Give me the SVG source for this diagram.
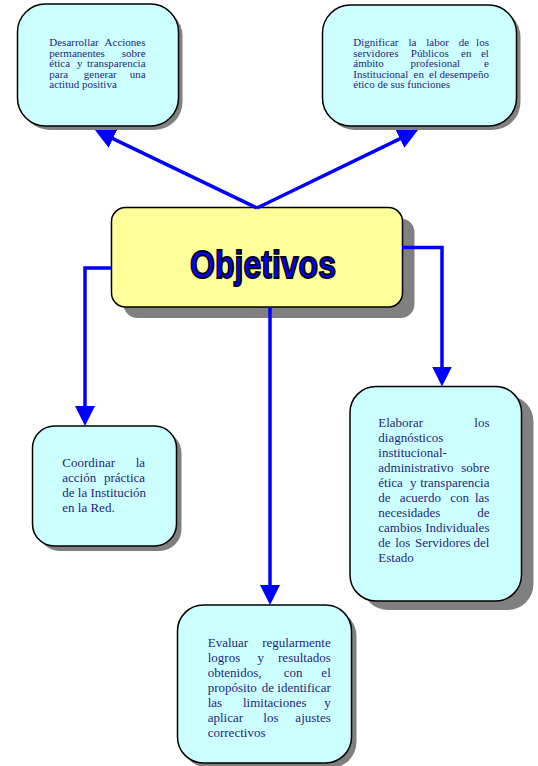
<svg xmlns="http://www.w3.org/2000/svg" width="538" height="766" viewBox="0 0 538 766">
<style>
.box{fill:#ccffff;stroke:#000;stroke-width:1.5}
.shadow{fill:#808080}
.t{font-family:"Liberation Serif","Times New Roman",serif;fill:#1f1f7a}
.t11{font-size:11px}
.t13{font-size:13px}
.e{text-anchor:end}
.con{fill:none;stroke:#0000ff;stroke-width:3.5}
</style>
<defs>
<marker id="arr" markerUnits="userSpaceOnUse" markerWidth="20" markerHeight="20" refX="10" refY="10" orient="auto" viewBox="0 0 20 20">
<path d="M0,0 L20,10 L0,20 z" fill="#0000ff"/>
</marker>
</defs>
<rect width="538" height="766" fill="#ffffff"/>

<g id="objetivos">
<rect class="shadow" x="123.5" y="218.5" width="291" height="99.5" rx="14"/>
<rect x="111.5" y="207.5" width="291" height="99.5" rx="14" fill="#ffff99" stroke="#000" stroke-width="1.5"/>
<text x="190" y="278" font-family="Liberation Sans, Arial, sans-serif" font-weight="bold" font-size="39" fill="#0000ff" stroke="#000" stroke-width="1.8" textLength="146" lengthAdjust="spacingAndGlyphs">Objetivos</text>
</g>

<g id="connectors">
<path class="con" d="M257,208 L104,134.3" marker-end="url(#arr)"/>
<path class="con" d="M257,208 L409,134.4" marker-end="url(#arr)"/>
<path class="con" d="M112,268 H85 V416" marker-end="url(#arr)"/>
<path class="con" d="M402,247.5 H442 V376.5" marker-end="url(#arr)"/>
<path class="con" d="M270,307 V595" marker-end="url(#arr)"/>
</g>

<g id="node-acciones">
<rect class="shadow" x="21.5" y="8" width="161" height="122" rx="28"/>
<rect class="box" x="17.5" y="4" width="161" height="122" rx="28"/>
<text class="t t11">
<tspan x="49.3" y="46">Desarrollar</tspan><tspan class="e" x="148.3" y="46">Acciones</tspan>
<tspan x="49.3" y="56.6">permanentes</tspan><tspan class="e" x="148.3" y="56.6">sobre</tspan>
<tspan x="49.3" y="67.2">ética</tspan><tspan x="77.1" y="67.2">y</tspan><tspan class="e" x="148.3" y="67.2">transparencia</tspan>
<tspan x="49.3" y="77.8">para</tspan><tspan x="83.8" y="77.8">generar</tspan><tspan class="e" x="148.3" y="77.8">una</tspan>
<tspan x="49.3" y="88.4">actitud positiva</tspan>
</text>
</g>

<g id="node-dignificar">
<rect class="shadow" x="326.5" y="9" width="194" height="121" rx="28"/>
<rect class="box" x="322.5" y="5" width="194" height="121" rx="28"/>
<text class="t t11">
<tspan x="353.3" y="46">Dignificar</tspan><tspan x="408.4" y="46">la</tspan><tspan x="426.2" y="46">labor</tspan><tspan x="458.7" y="46">de</tspan><tspan class="e" x="491.7" y="46">los</tspan>
<tspan x="353.3" y="56.6">servidores</tspan><tspan x="410.8" y="56.6">Públicos</tspan><tspan x="461" y="56.6">en</tspan><tspan class="e" x="491.7" y="56.6">el</tspan>
<tspan x="353.3" y="67.2">ámbito</tspan><tspan x="410.6" y="67.2">profesional</tspan><tspan class="e" x="491.7" y="67.2">e</tspan>
<tspan x="353.3" y="77.8">Institucional</tspan><tspan x="413.5" y="77.8">en</tspan><tspan x="429.1" y="77.8">el</tspan><tspan class="e" x="491.7" y="77.8">desempeño</tspan>
<tspan x="353.3" y="88.4">ético de sus funciones</tspan>
</text>
</g>

<g id="node-coordinar">
<rect class="shadow" x="37.5" y="431" width="144" height="120" rx="22"/>
<rect class="box" x="32.5" y="426" width="144" height="120" rx="22"/>
<text class="t t13">
<tspan x="62.3" y="466.7">Coordinar</tspan><tspan class="e" x="148.3" y="466.7">la</tspan>
<tspan x="62.3" y="481.7">acción</tspan><tspan class="e" x="148.3" y="481.7">práctica</tspan>
<tspan x="62.3" y="496.7">de la Institución</tspan>
<tspan x="62.3" y="511.7">en la Red.</tspan>
</text>
</g>

<g id="node-elaborar">
<rect class="shadow" x="362" y="395.5" width="171.5" height="214.5" rx="26"/>
<rect class="box" x="350" y="386.5" width="171.5" height="214.5" rx="26"/>
<text class="t t13">
<tspan x="378.3" y="426.7">Elaborar</tspan><tspan class="e" x="492.7" y="426.7">los</tspan>
<tspan x="378.3" y="441.75">diagnósticos</tspan>
<tspan x="378.3" y="456.8">institucional-</tspan>
<tspan x="378.3" y="471.85">administrativo</tspan><tspan class="e" x="492.7" y="471.85">sobre</tspan>
<tspan x="378.3" y="486.9">ética</tspan><tspan x="409.9" y="486.9">y</tspan><tspan class="e" x="492.7" y="486.9">transparencia</tspan>
<tspan x="378.3" y="501.95">de</tspan><tspan x="399.8" y="501.95">acuerdo</tspan><tspan x="450.2" y="501.95">con</tspan><tspan class="e" x="492.7" y="501.95">las</tspan>
<tspan x="378.3" y="517">necesidades</tspan><tspan class="e" x="492.7" y="517">de</tspan>
<tspan x="378.3" y="532.05">cambios</tspan><tspan class="e" x="492.7" y="532.05">Individuales</tspan>
<tspan x="378.3" y="547.1">de</tspan><tspan x="395.2" y="547.1">los</tspan><tspan x="415" y="547.1">Servidores</tspan><tspan class="e" x="492.7" y="547.1">del</tspan>
<tspan x="378.3" y="562.15">Estado</tspan>
</text>
</g>

<g id="node-evaluar">
<rect class="shadow" x="182.5" y="610" width="174" height="158" rx="26"/>
<rect class="box" x="177.5" y="605" width="174" height="158" rx="26"/>
<text class="t t13">
<tspan x="207.7" y="646.7">Evaluar</tspan><tspan class="e" x="334" y="646.7">regularmente</tspan>
<tspan x="207.7" y="661.8">logros</tspan><tspan x="257.5" y="661.8">y</tspan><tspan class="e" x="334" y="661.8">resultados</tspan>
<tspan x="207.7" y="676.9">obtenidos,</tspan><tspan x="283.7" y="676.9">con</tspan><tspan class="e" x="334" y="676.9">el</tspan>
<tspan x="207.7" y="692">propósito</tspan><tspan x="261.8" y="692">de</tspan><tspan class="e" x="334" y="692">identificar</tspan>
<tspan x="207.7" y="707.1">las</tspan><tspan x="243" y="707.1">limitaciones</tspan><tspan class="e" x="334" y="707.1">y</tspan>
<tspan x="207.7" y="722.2">aplicar</tspan><tspan x="263.3" y="722.2">los</tspan><tspan class="e" x="334" y="722.2">ajustes</tspan>
<tspan x="207.7" y="737.3">correctivos</tspan>
</text>
</g>
</svg>
